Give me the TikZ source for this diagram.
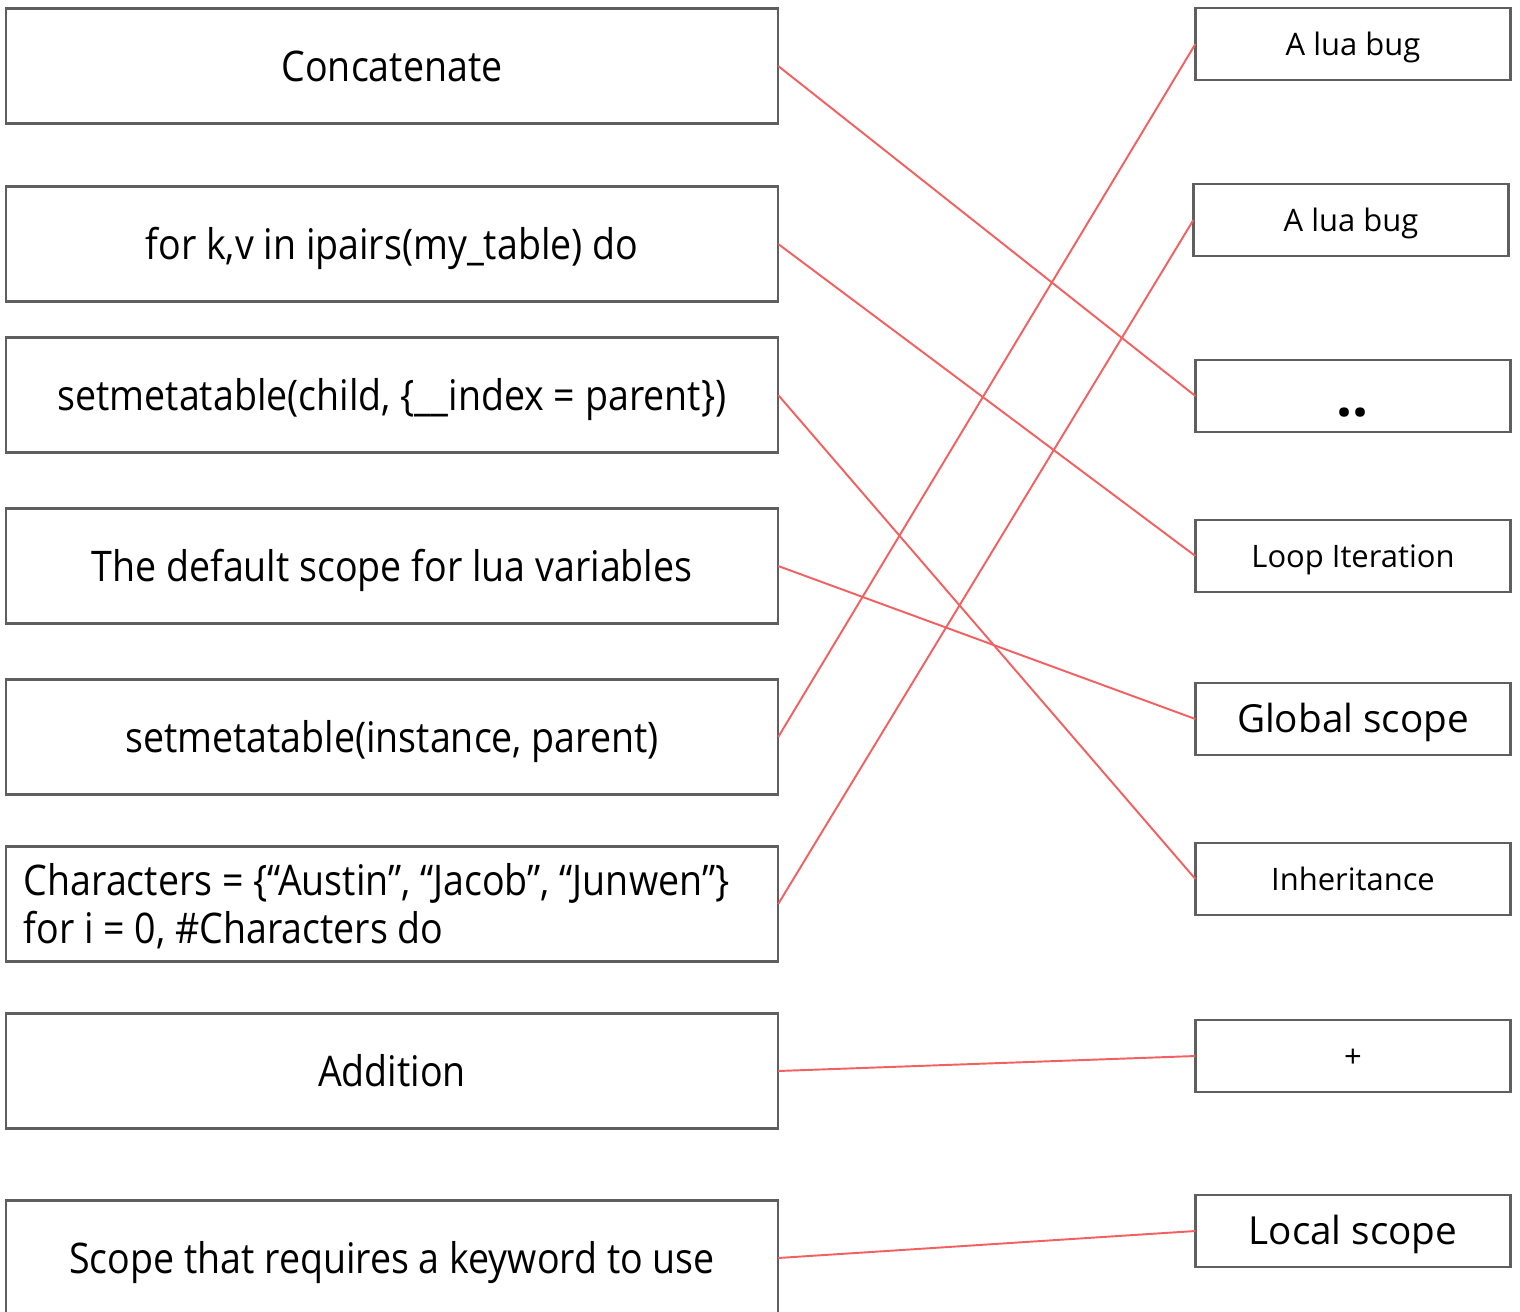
\documentclass[tikz,border=0pt]{standalone}
\usepackage{fontspec}
\setmainfont{Open Sans}
\newfontfamily\narrowfont[FakeStretch=0.89]{Open Sans}
\definecolor{linkred}{RGB}{242,96,96}
\definecolor{boxgray}{RGB}{95,95,95}

\begin{document}
\begin{tikzpicture}[x=0.01cm, y=-0.01cm,
  every node/.style={draw=boxgray, line width=0.7pt, inner sep=0pt, outer sep=0pt},
  leftbox/.style={minimum width=7.72cm, minimum height=1.15cm, text height=8.6pt, text depth=0pt, font=\narrowfont\fontsize{12}{13.7}\selectfont},
  rightbox/.style={minimum width=3.15cm, minimum height=0.72cm, text height=6.3pt, text depth=0pt, font=\fontsize{8.8}{11}\selectfont},
  bigbox/.style={rightbox, text height=7.9pt, font=\fontsize{11}{13}\selectfont},
  link/.style={draw=linkred, line width=0.55pt}]
\clip (0,0) rectangle (1520,1311);
\node[leftbox] (L1) at (392,66) {Concatenate};
\node[leftbox] (L2) at (392,244) {for k,v in ipairs(my\_table) do};
\node[leftbox] (L3) at (392,395) {setmetatable(child, \{\_\_index = parent\})};
\node[leftbox] (L4) at (392,566) {The default scope for lua variables};
\node[leftbox] (L5) at (392,737) {setmetatable(instance, parent)};
\node[leftbox, text width=7.36cm, text depth=13.7pt, align=flush left] (L6) at (392,904) {Characters = \{“Austin”, “Jacob”, “Junwen”\}\\for i = 0, \#Characters do};
\node[leftbox] (L7) at (392,1071) {Addition};
\node[leftbox] (L8) at (392,1258) {Scope that requires a keyword to use};
\node[rightbox] (R1) at (1353,44) {A lua bug};
\node[rightbox] (R2) at (1351,220) {A lua bug};
\node[rightbox, font=\bfseries\fontsize{16}{18}\selectfont, text height=0.4cm] (R3) at (1353,396) {..};
\node[rightbox] (R4) at (1353,556) {Loop Iteration};
\node[bigbox] (R5) at (1353,719) {Global scope};
\node[rightbox] (R6) at (1353,879) {Inheritance};
\node[rightbox] (R7) at (1353,1056) {+};
\node[bigbox] (R8) at (1353,1231) {Local scope};
\draw[link] (L1.east) -- (R3.west);
\draw[link] (L2.east) -- (R4.west);
\draw[link] (L3.east) -- (R6.west);
\draw[link] (L4.east) -- (R5.west);
\draw[link] (L5.east) -- (R1.west);
\draw[link] (L6.east) -- (R2.west);
\draw[link] (L7.east) -- (R7.west);
\draw[link] (L8.east) -- (R8.west);
\end{tikzpicture}
\end{document}
